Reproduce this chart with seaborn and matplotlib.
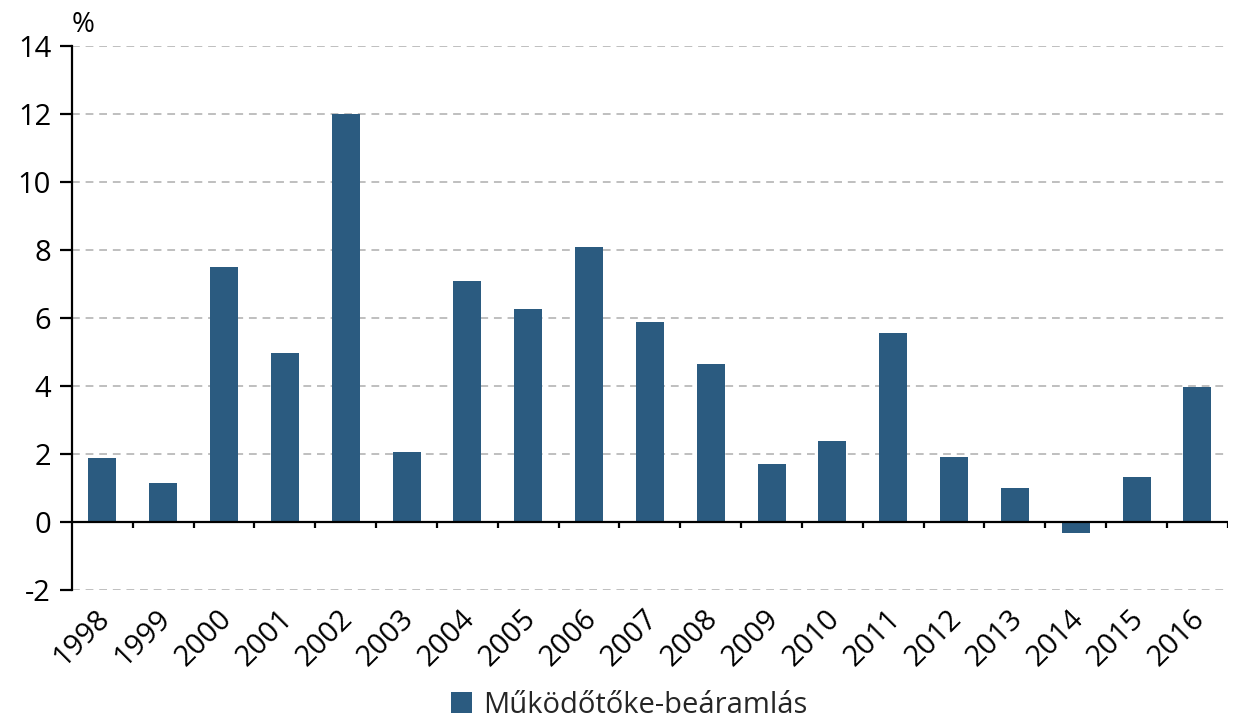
import matplotlib
matplotlib.use("Agg")
import matplotlib.pyplot as plt
import matplotlib.transforms as mtransforms
import seaborn as sns
import pandas as pd
from matplotlib.patches import Patch

years = ["1998", "1999", "2000", "2001", "2002", "2003", "2004", "2005", "2006",
         "2007", "2008", "2009", "2010", "2011", "2012", "2013", "2014", "2015", "2016"]
fdi_inflow = [1.88, 1.15, 7.5, 4.97, 12.0, 2.06, 7.09, 6.26, 8.09,
              5.88, 4.65, 1.71, 2.38, 5.56, 1.91, 1.0, -0.32, 1.32, 3.97]
y_ticks = [-2, 0, 2, 4, 6, 8, 10, 12, 14]
series_name = "Működőtőke-beáramlás"
bar_color = "#2B5B80"

sns.set_theme(style="white")
plt.rcParams["font.family"] = ["Open Sans", "DejaVu Sans"]

df = pd.DataFrame({"year": years, "value": fdi_inflow})

fig = plt.figure(figsize=(12.34, 7.27), dpi=100)
ax = fig.add_axes([0.0583, 0.1884, 0.9367, 0.7483])

sns.barplot(data=df, x="year", y="value", color=bar_color, width=0.46,
            saturation=1, ax=ax, edgecolor="none")

ax.set_ylim(-2, 14)
ax.set_xlim(-0.5, len(years) - 0.5)
ax.set_yticks(y_ticks)
ax.set_yticklabels([str(t) for t in y_ticks], fontsize=21, color="black")
ax.set_xlabel("")
ax.set_ylabel("")

# dashed horizontal gridlines (zero is covered by the axis line)
for t in y_ticks:
    if t != 0:
        ax.axhline(t, color="#BFBFBF", lw=1.4, ls=(0, (4, 3)), zorder=0)

for s in ["top", "right", "bottom"]:
    ax.spines[s].set_visible(False)
ax.spines["left"].set_color("black")
ax.spines["left"].set_linewidth(1.6)
ax.tick_params(axis="y", direction="out", length=9, width=1.6, color="black",
               left=True, pad=6)

# category axis drawn along zero with separator ticks between categories
ax.axhline(0, color="black", lw=1.6, zorder=3)
sep = [i + 0.5 for i in range(len(years))]
ax.vlines(sep, -0.19, 0, color="black", lw=1.6, zorder=3)

ax.set_xticks(range(len(years)))
ax.set_xticklabels(years, rotation=45, ha="right", rotation_mode="anchor",
                   fontsize=21, color="black")
ax.tick_params(axis="x", length=0, pad=10, bottom=False)
offset = mtransforms.ScaledTranslation(-7 / 100, 0, fig.dpi_scale_trans)
for lbl in ax.get_xticklabels():
    lbl.set_transform(lbl.get_transform() + offset)

ax.text(0.0, 1.012, "%", transform=ax.transAxes, fontsize=20, ha="left",
        va="bottom", color="black")

handles = [Patch(facecolor=bar_color, edgecolor="none", label=series_name)]
fig.legend(handles=handles, loc="lower center", bbox_to_anchor=(0.51, -0.026),
           frameon=False, fontsize=21, handlelength=0.7, handleheight=0.7,
           handletextpad=0.4)

fig.savefig("out.png", dpi=100)
